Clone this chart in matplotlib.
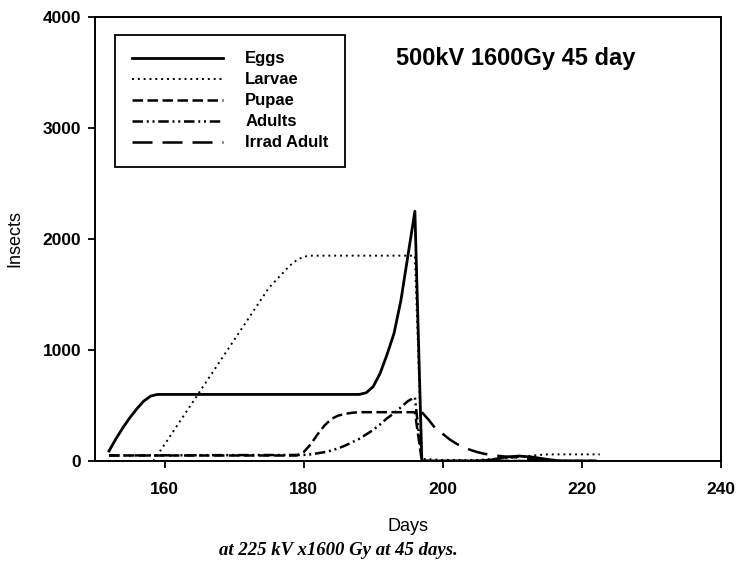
import matplotlib
matplotlib.use("Agg")
import matplotlib.pyplot as plt

plt.rcParams["font.family"] = ["Liberation Sans", "DejaVu Sans"]

# population counts per day for each life stage
egg_days = [152, 153, 154, 155, 156, 157, 158, 159, 165, 170, 175, 180, 185,
            188, 189, 190, 191, 192, 193, 194, 195, 196, 197, 200, 205, 207,
            209, 211, 213, 215, 217, 222]
eggs = [90, 200, 300, 390, 470, 540, 585, 600, 600, 600, 600, 600, 600,
        600, 615, 670, 790, 960, 1150, 1450, 1850, 2250, 0, 0, 0, 10,
        35, 45, 35, 15, 0, 0]

larva_days = [158.4, 160, 165, 170, 175, 178, 179, 180, 181, 185, 190, 196,
              197, 200, 205, 210, 213, 215, 222.6]
larvae = [0, 150, 620, 1090, 1560, 1760, 1810, 1840, 1850, 1850, 1850, 1850,
          20, 10, 10, 30, 50, 60, 60]

pupa_days = [152, 179, 180, 181, 182, 183, 184, 185, 186, 187, 188, 196, 197, 222]
pupae = [50, 50, 80, 150, 240, 320, 380, 410, 425, 435, 440, 440, 0, 0]

adult_days = [152, 180, 181, 182, 183, 184, 185, 186, 187, 188, 189, 190,
              191, 192, 193, 194, 195, 196, 197, 222]
adults = [50, 55, 60, 70, 80, 95, 115, 140, 170, 200, 240, 280,
          330, 385, 430, 485, 540, 575, 0, 0]

irrad_days = [197, 198, 199, 200, 201, 202, 203, 204, 205, 206, 207, 208,
              209, 210, 211, 212, 213, 214, 215, 222]
irrad_adults = [440, 370, 290, 245, 195, 155, 125, 100, 80, 65, 55, 47,
                40, 36, 30, 22, 15, 8, 0, 0]

x_ticks = [160, 180, 200, 220, 240]
y_ticks = [0, 1000, 2000, 3000, 4000]

fig = plt.figure(figsize=(7.37, 5.65), dpi=100)
ax = fig.add_axes([0.129, 0.184, 0.849, 0.786])

ax.plot(egg_days, eggs, color="black", lw=2.0, ls="-", label="Eggs")
ax.plot(larva_days, larvae, color="black", lw=1.4, ls=(0, (1, 2.0)), label="Larvae")
ax.plot(pupa_days, pupae, color="black", lw=1.8, ls=(0, (4.2, 1.8)), label="Pupae")
ax.plot(adult_days, adults, color="black", lw=1.8,
        ls=(0, (4.2, 1.5, 0.8, 1.5, 0.8, 1.5)), label="Adults")
ax.plot(irrad_days, irrad_adults, color="black", lw=1.8, ls=(0, (8, 4)),
        label="Irrad Adult")

ax.set_xlim(150, 240)
ax.set_ylim(0, 4000)
ax.set_xticks(x_ticks)
ax.set_yticks(y_ticks)
ax.tick_params(direction="out", length=5, width=1.3, labelsize=12.5)
ax.tick_params(axis="x", pad=10)
ax.tick_params(axis="y", pad=5)
for lab in ax.get_xticklabels() + ax.get_yticklabels():
    lab.set_fontweight("bold")
for sp in ax.spines.values():
    sp.set_linewidth(1.4)

ax.set_xlabel("Days", fontsize=13, labelpad=15)
ax.set_ylabel("Insects", fontsize=13, labelpad=14)

ax.text(210.5, 3630, "500kV 1600Gy 45 day", fontsize=17, fontweight="bold",
        ha="center", va="center")

leg = ax.legend(loc="upper left", bbox_to_anchor=(0.032, 0.96), borderaxespad=0,
                prop={"weight": "bold", "size": 12},
                handlelength=5.5, handletextpad=1.3, labelspacing=0.36,
                borderpad=1.0, fancybox=False, framealpha=1)
leg.get_frame().set_edgecolor("black")
leg.get_frame().set_linewidth(1.3)

fig.text(0.459, 0.026, "at 225 kV x1600 Gy at 45 days.", ha="center", va="center",
         fontsize=13.5, fontweight="bold", fontstyle="italic",
         family=["Liberation Serif", "DejaVu Serif"])

fig.savefig("out.png", dpi=100)
